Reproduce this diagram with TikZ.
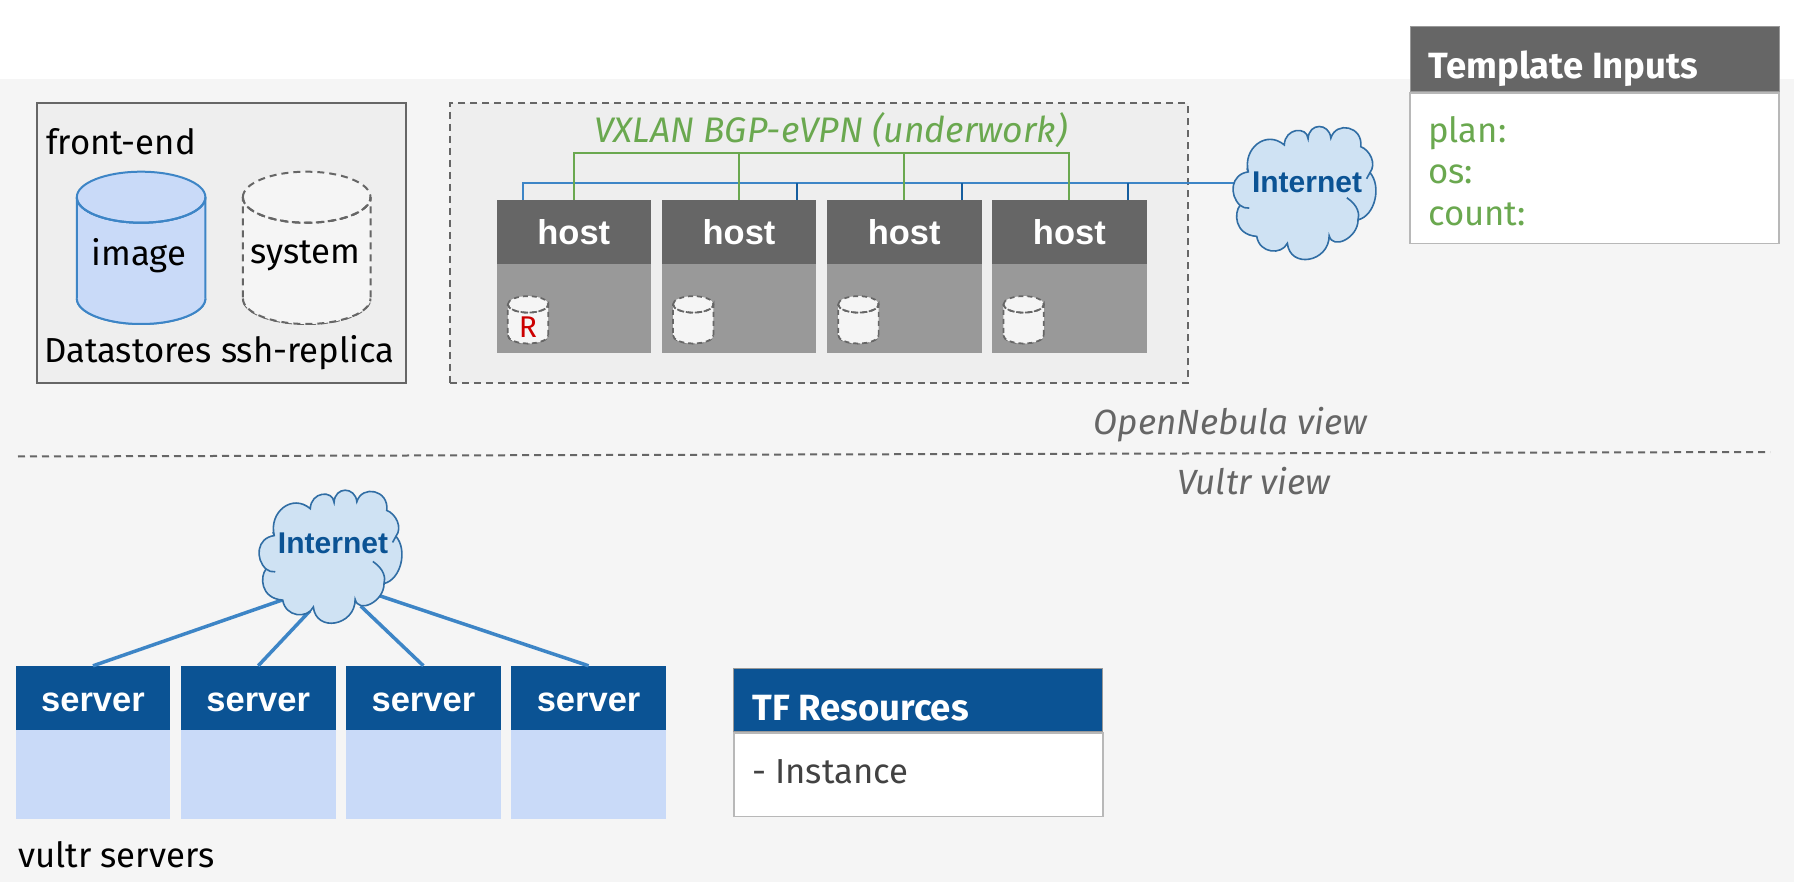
\documentclass[tikz,border=0pt]{standalone}
\usepackage{fontspec}
\setmainfont{Fira Sans}
\newfontfamily\arialfont{Liberation Sans}
\usetikzlibrary{shapes,shapes.geometric,calc,positioning}
\definecolor{pagegray}{HTML}{F5F5F5}
\definecolor{boxgray}{HTML}{EEEEEE}
\definecolor{darkgray}{HTML}{666666}
\definecolor{midgray}{HTML}{999999}
\definecolor{navy}{HTML}{0B5394}
\definecolor{linkblue}{HTML}{3D85C6}
\definecolor{paleblue}{HTML}{C9DAF8}
\definecolor{cloudblue}{HTML}{CFE2F3}
\definecolor{vxgreen}{HTML}{6AA84F}

\tikzset{
  pics/drum/.style n args={3}{code={
    \path[pic actions] (-#1,0) arc[start angle=180,end angle=360,x radius=#1pt,y radius=#2pt] -- (#1,#3)
      arc[start angle=360,end angle=180,x radius=#1pt,y radius=#2pt] -- cycle;
    \path[pic actions] (-#1,0) arc[start angle=180,end angle=-180,x radius=#1pt,y radius=#2pt];
    \path[pic actions] (-#1,#3) arc[start angle=180,end angle=360,x radius=#1pt,y radius=#2pt];
    \path[pic actions, fill=none] (-#1,0) arc[start angle=180,end angle=360,x radius=#1pt,y radius=#2pt];
  }},
  pics/puffs/.style={code={
    \begin{scope}[x=0.34pt,y=-0.345pt,shift={(-236,-225)}]
    \path[pic actions] (72,158) .. controls (55,90) and (125,35) .. (178,80)
      .. controls (180,30) and (245,25) .. (248,62)
      .. controls (250,15) and (310,15) .. (315,60)
      .. controls (330,10) and (410,25) .. (403,85)
      .. controls (430,95) and (450,135) .. (430,160)
      .. controls (465,200) and (445,285) .. (395,297)
      .. controls (395,350) and (320,385) .. (310,343)
      .. controls (310,420) and (195,440) .. (187,365)
      .. controls (170,400) and (105,395) .. (97,345)
      .. controls (30,340) and (30,275) .. (48,255)
      .. controls (15,225) and (20,165) .. (72,158) -- cycle;
    \path[pic actions, fill=none] (362,233) .. controls (395,255) and (400,280) .. (395,297);
    \path[pic actions, fill=none] (48,255) .. controls (55,262) and (65,263) .. (75,263);
    \path[pic actions, fill=none] (430,160) -- (420,178);
    \path[pic actions, fill=none] (72,158) -- (68,148);
    \end{scope}
  }}
}

\begin{document}
\begin{tikzpicture}[
  x=1pt, y=-1pt,
  label/.style={inner sep=0pt, anchor=base west, font=\fontsize{34.7}{42}\selectfont},
  viewlabel/.style={label, text=darkgray, font=\fontsize{35}{42}\selectfont\itshape},
  titlelabel/.style={label, text=white, font=\bfseries\fontsize{36.5}{42}\selectfont},
  frontbox/.style={draw=darkgray, line width=2pt, fill=boxgray, minimum height=280pt},
  netbox/.style={frontbox, dash pattern=on 7pt off 5pt},
  hosthead/.style={fill=darkgray, inner sep=0pt, minimum width=154.6pt, minimum height=64pt, text height=26pt, text depth=0pt, text=white, font=\arialfont\bfseries\fontsize{34.5}{40}\selectfont},
  hostbody/.style={fill=midgray, inner sep=0pt, minimum width=154.6pt, minimum height=88.7pt},
  serverhead/.style={hosthead, fill=navy},
  serverbody/.style={hostbody, fill=paleblue},
  bigdrum/.style={line width=2pt},
  smalldrum/.style={draw=darkgray, fill=pagegray, line width=1.7pt, dash pattern=on 5pt off 4pt},
  drumtext/.style={label, anchor=base},
  cloudspot/.style={ellipse, inner sep=0pt, minimum width=120pt, minimum height=110pt},
  cloudline/.style={draw=navy!85!white, line width=1.6pt, fill=cloudblue},
  cloudtext/.style={text=navy, inner sep=0pt, anchor=base, font=\arialfont\bfseries\fontsize{30}{36}\selectfont},
  tablehead/.style={inner sep=0pt, minimum width=369pt, fill=darkgray, draw=midgray, line width=1pt},
  tablebody/.style={inner sep=0pt, minimum width=369pt, fill=white, draw=black!28, line width=1.5pt},
  bluelink/.style={linkblue, line width=2pt},
  greenlink/.style={vxgreen, line width=2pt},
  serverlink/.style={linkblue, line width=3.5pt}
  ]
  \useasboundingbox (0,0) rectangle (1794,882);
  \fill[pagegray] (0,79) rectangle (1794,882);

  % OpenNebula view
  \node[frontbox, minimum width=369.4pt] (frontend) at (221.3,243) {};
  \node[netbox, minimum width=737.6pt] (overlay) at (818.8,243) {};
  \node[label] (frontname) at (46,155) {front-end};
  \pic[bigdrum, draw=linkblue, fill=paleblue] (imageds) at (141.1,197.2) {drum={64.3}{25.5}{101.3}};
  \pic[bigdrum, draw=darkgray, fill=pagegray, dash pattern=on 7pt off 5pt] (systemds) at (306.7,197.2) {drum={63.8}{25.5}{101.3}};
  \node[drumtext] (imagename) at (139,266) {image};
  \node[drumtext] (systemname) at (305.5,264) {system};
  \node[label] (dsname) at (44,362.7) {Datastores ssh-replica};

  \node[hosthead] (hostA) at (573.8,232) {host};
  \node[hosthead, right=10.2pt of hostA] (hostB) {host};
  \node[hosthead, right=10.2pt of hostB] (hostC) {host};
  \node[hosthead, right=10.2pt of hostC] (hostD) {host};
  \node[hostbody, below=0pt of hostA] (bodyA) {};
  \node[hostbody, below=0pt of hostB] (bodyB) {};
  \node[hostbody, below=0pt of hostC] (bodyC) {};
  \node[hostbody, below=0pt of hostD] (bodyD) {};
  \pic[smalldrum] (diskA) at ([shift={(-45.8pt,4.4pt)}]bodyA.center) {drum={20.2}{8.2}{30.9}};
  \pic[smalldrum] (diskB) at ([shift={(-45.8pt,4.4pt)}]bodyB.center) {drum={20.2}{8.2}{30.9}};
  \pic[smalldrum] (diskC) at ([shift={(-45.8pt,4.4pt)}]bodyC.center) {drum={20.2}{8.2}{30.9}};
  \pic[smalldrum] (diskD) at ([shift={(-45.8pt,4.4pt)}]bodyD.center) {drum={20.2}{8.2}{30.9}};
  \node[drumtext, text=red!80!black, font=\fontsize{30}{36}\selectfont] (replica) at ([shift={(-45.8pt,-28.4pt)}]bodyA.center) {R};

  \node[label, text=vxgreen, font=\fontsize{35.5}{42}\selectfont\itshape] (vxlan) at (594,142.7) {VXLAN BGP-eVPN (underwork)};

  \node[cloudspot] (cloudtop) at (1304,195) {};

  \coordinate (bluebar) at (523,182.7);
  \coordinate (greenbar) at (573.8,153.3);

  \draw[bluelink] (hostA.north -| bluebar) -- (bluebar) -- (bluebar -| cloudtop.west);
  \draw[bluelink, navy!80!linkblue] ([xshift=58.2pt]hostB.north) -- ([xshift=58.2pt]hostB.north |- bluebar);
  \draw[bluelink, navy!80!linkblue] ([xshift=58.2pt]hostC.north) -- ([xshift=58.2pt]hostC.north |- bluebar);
  \draw[bluelink, navy!80!linkblue] ([xshift=58.2pt]hostD.north) -- ([xshift=58.2pt]hostD.north |- bluebar);

  \draw[greenlink] (hostA.north) -- (greenbar) -| (hostD.north);
  \draw[greenlink] (hostB.north) -- (hostB.north |- greenbar);
  \draw[greenlink] (hostC.north) -- (hostC.north |- greenbar);

  \pic[cloudline] (puffstop) at (cloudtop.center) {puffs};
  \node[cloudtext] (nettop) at (1307,192.7) {Internet};

  % Template Inputs
  \node[tablehead, minimum height=65.6pt] (inputhead) at (1594.7,59.2) {};
  \node[tablebody, minimum height=150.5pt, below=0pt of inputhead] (inputbody) {};
  \node[titlelabel] (inputtitle) at (1428.5,79) {Template Inputs};
  \node[label, text=vxgreen] (plan) at (1428,142.5) {plan:};
  \node[label, text=vxgreen] (os) at (1428,184) {os:};
  \node[label, text=vxgreen] (count) at (1428,225.7) {count:};

  % divider
  \coordinate (viewleft) at (18,456.5);
  \coordinate (viewright) at (1770,452);
  \draw[darkgray, line width=2pt, dash pattern=on 7pt off 5pt] (viewleft) -- (viewright);
  \node[viewlabel] (onview) at (1093.7,435) {OpenNebula view};
  \node[viewlabel] (vultrview) at (1177,494.5) {Vultr view};

  % Vultr view
  \node[serverhead] (serverA) at (93,698) {server};
  \node[serverhead, right=10.2pt of serverA] (serverB) {server};
  \node[serverhead, right=10.2pt of serverB] (serverC) {server};
  \node[serverhead, right=10.2pt of serverC] (serverD) {server};
  \node[serverbody, below=0pt of serverA] (sbodyA) {};
  \node[serverbody, below=0pt of serverB] (sbodyB) {};
  \node[serverbody, below=0pt of serverC] (sbodyC) {};
  \node[serverbody, below=0pt of serverD] (sbodyD) {};

  \node[cloudspot] (cloudlow) at (330,558.7) {};

  \draw[serverlink] (cloudlow.223) -- (serverA.north);
  \draw[serverlink] (cloudlow.249.3) -- (serverB.north);
  \draw[serverlink] (cloudlow.303.8) -- (serverC.north);
  \draw[serverlink] (cloudlow.322.9) -- (serverD.north);

  \pic[cloudline] (puffslow) at (cloudlow.center) {puffs};
  \node[cloudtext] (netlow) at (333,553) {Internet};

  \node[label] (vultrname) at (18,867) {vultr servers};

  % TF Resources
  \node[tablehead, fill=navy, minimum height=63.6pt] (tfhead) at (918.3,700) {};
  \node[tablebody, minimum height=83.5pt, below=0pt of tfhead] (tfbody) {};
  \node[titlelabel] (tftitle) at (752.3,720.5) {TF Resources};
  \node[label, text=black!74] (instance) at (752,783.3) {- Instance};
\end{tikzpicture}
\end{document}
